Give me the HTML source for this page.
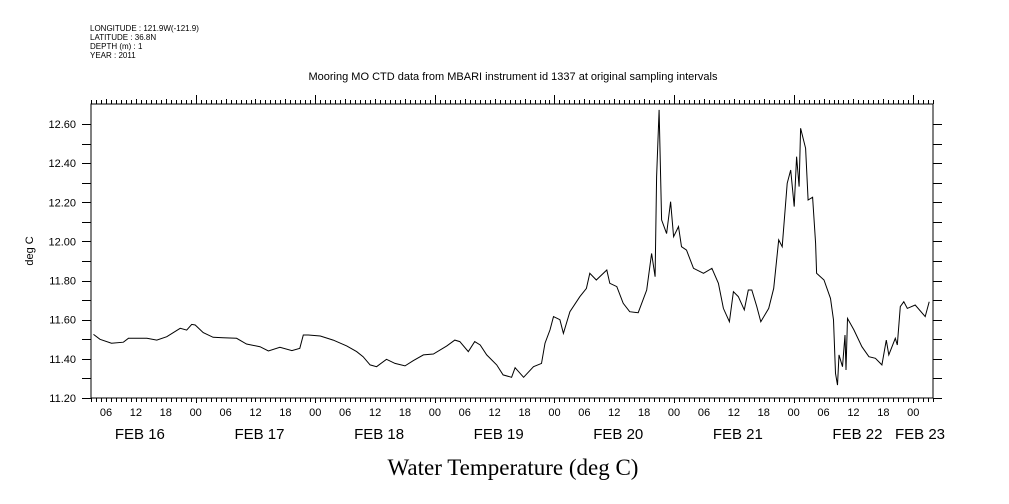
<!DOCTYPE html>
<html><head><meta charset="utf-8"><style>
body{margin:0;background:#fff;}
svg{display:block;font-family:"Liberation Sans",sans-serif;}
</style></head><body>
<svg id="chart" width="1009" height="504" viewBox="0 0 1009 504">
<g font-size="8" fill="#000">
<text x="90" y="31">LONGITUDE : 121.9W(-121.9)</text>
<text x="90" y="40">LATITUDE : 36.8N</text>
<text x="90" y="49">DEPTH (m) : 1</text>
<text x="90" y="58">YEAR : 2011</text>
</g>
<text x="513" y="80" font-size="11" text-anchor="middle">Mooring MO CTD data from MBARI instrument id 1337 at original sampling intervals</text>
<text transform="translate(33,251) rotate(-90)" font-size="11" text-anchor="middle">deg C</text>
<text x="513" y="475" font-size="23" text-anchor="middle" font-family="Liberation Serif, serif">Water Temperature (deg C)</text>
<g id="axes"></g>
<path id="series" fill="none" stroke="#000" stroke-width="1"/>
</svg>
<script>
const times=[3.5,4.8,7.1,9.5,10.5,14.2,16.2,18.2,20.9,22.2,23.2,23.9,25.5,27.5,29.5,32.2,34.2,36.9,38.6,40.9,43.3,44.9,45.6,46.6,49.0,51.6,54.3,56.3,57.6,59.0,60.3,62.3,64.0,66.0,67.7,69.7,71.7,74.4,76.0,77.0,78.7,80.0,81.1,82.4,84.4,85.7,87.4,88.1,89.8,91.8,93.4,94.1,95.1,95.8,97.1,97.8,99.1,101.1,102.4,103.1,104.4,106.5,107.1,108.5,109.8,111.1,112.8,114.5,115.5,116.2,116.5,117.0,117.5,118.5,119.3,119.9,120.9,121.5,122.5,123.9,125.9,127.6,128.9,129.9,131.1,131.9,132.9,134.1,134.9,135.6,136.6,137.4,139.0,140.0,141.0,141.7,142.7,143.4,144.1,144.6,145.1,145.4,146.4,146.9,147.8,148.4,148.6,150.1,151.4,152.0,152.4,152.8,153.1,153.8,154.3,154.5,154.8,156.1,157.7,159.1,160.4,161.7,162.6,163.1,164.4,164.8,165.4,166.1,166.8,168.4,170.4,171.2];
const temps=[11.525,11.50,11.48,11.485,11.505,11.505,11.496,11.513,11.556,11.547,11.576,11.573,11.534,11.51,11.508,11.505,11.476,11.462,11.44,11.459,11.442,11.454,11.522,11.522,11.517,11.496,11.466,11.437,11.411,11.369,11.36,11.398,11.377,11.364,11.391,11.42,11.425,11.466,11.496,11.488,11.437,11.488,11.471,11.42,11.369,11.318,11.306,11.355,11.306,11.36,11.377,11.48,11.548,11.616,11.6,11.53,11.641,11.718,11.76,11.837,11.803,11.854,11.786,11.769,11.684,11.641,11.636,11.752,11.939,11.82,12.331,12.672,12.11,12.04,12.203,12.024,12.076,11.973,11.956,11.863,11.837,11.863,11.786,11.658,11.59,11.743,11.718,11.65,11.752,11.752,11.667,11.59,11.658,11.76,12.008,11.973,12.297,12.365,12.178,12.433,12.28,12.578,12.476,12.212,12.226,11.99,11.837,11.803,11.709,11.599,11.326,11.266,11.42,11.36,11.522,11.343,11.607,11.548,11.462,11.411,11.403,11.369,11.496,11.42,11.505,11.471,11.667,11.692,11.658,11.675,11.616,11.692];
const yTicks=[11.2,11.4,11.6,11.8,12.0,12.2,12.4,12.6];
const dayLabels=["FEB 16","FEB 17","FEB 18","FEB 19","FEB 20","FEB 21","FEB 22","FEB 23"];
const L=91,R=933,T=104,B=398;
const xs=t=>76.1+t*4.983;
const ys=v=>B-(v-11.2)*195.7;
const NS="http://www.w3.org/2000/svg";
const ax=document.getElementById('axes');
function mk(tag,attrs,parent){const e=document.createElementNS(NS,tag);for(const k in attrs)e.setAttribute(k,attrs[k]);(parent||ax).appendChild(e);return e;}
const frame=mk('rect',{x:L,y:T,width:R-L,height:B-T,fill:'none',stroke:'#000','stroke-width':1});


let d='';
for(let h=3;h<=172;h++){const x=Math.round(xs(h))+0.5;const len=h%24===0?9:(h%6===0?5:4);
 d+=`M${x},${B}v${h%24===0?5:4}M${x},${T}v${-len}`;}
for(let k=0;k<=14;k++){const y=Math.round(ys(11.2+k*0.1))+0.5;d+=`M${L},${y}h-9M${R},${y}h9`;}
const tk=mk('path',{d:d,stroke:'#000','stroke-width':1,fill:'none'});


yTicks.forEach(v=>{const t=mk('text',{x:76,y:ys(v)+4,'font-size':11,'text-anchor':'end'});t.textContent=v.toFixed(2);
 
 });
for(let h=6;h<=170;h+=6){const t=mk('text',{x:xs(h),y:416,'font-size':11,'text-anchor':'middle'});t.textContent=String(h%24).padStart(2,'0');
 
 }
dayLabels.forEach((s,i)=>{let x=xs(24*i+12)+4;if(i===dayLabels.length-1)x=920;
 const t=mk('text',{x:x,y:439,'font-size':15,'text-anchor':'middle'});t.textContent=s;
 
 });
document.getElementById('series').setAttribute('d',times.map((t,i)=>(i?'L':'M')+xs(t).toFixed(1)+','+ys(temps[i]).toFixed(1)).join(''));
</script>
</body></html>
